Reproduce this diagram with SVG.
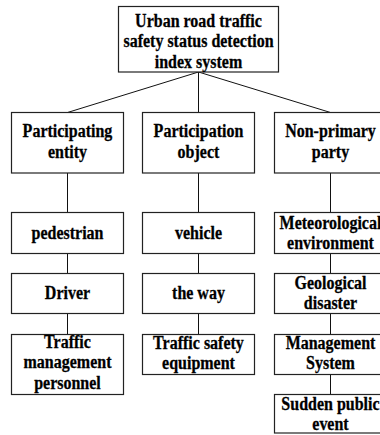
<svg xmlns="http://www.w3.org/2000/svg" width="380" height="435" viewBox="0 0 380 435">
<style>
rect{fill:#fff;stroke:#222;stroke-width:1.2}
text{font-family:'Liberation Serif','Times New Roman',serif;font-weight:700;font-size:16px;text-anchor:middle;fill:#000;stroke:#000;stroke-width:0.25;transform:scaleY(1.15);transform-box:fill-box;transform-origin:center}
#connectors line{stroke:#111;stroke-width:1}
</style>
<rect x="0" y="0" width="380" height="435" style="stroke:none"/>
<g id="connectors">
<line x1="198.5" y1="72" x2="67.5" y2="112.5"/>
<line x1="198.5" y1="72" x2="198.5" y2="112.5"/>
<line x1="198.5" y1="72" x2="330.5" y2="112.5"/>
<line x1="67.5" y1="173" x2="67.5" y2="212.5"/>
<line x1="67.5" y1="253.5" x2="67.5" y2="273.5"/>
<line x1="67.5" y1="313.5" x2="67.5" y2="334.5"/>
<line x1="198.5" y1="173" x2="198.5" y2="212.5"/>
<line x1="198.5" y1="250" x2="198.5" y2="273.5"/>
<line x1="198.5" y1="313.5" x2="198.5" y2="334.5"/>
<line x1="330.5" y1="173" x2="330.5" y2="212.5"/>
<line x1="330.5" y1="253.5" x2="330.5" y2="273.5"/>
<line x1="330.5" y1="313.5" x2="330.5" y2="334.5"/>
<line x1="330.5" y1="374.5" x2="330.5" y2="394.5"/>
</g>
<g id="root">
<rect x="118.5" y="6.5" width="160" height="65.5"/>
<text x="198.5" y="26">Urban road traffic</text>
<text x="198.5" y="46.5">safety status detection</text>
<text x="198.5" y="67">index system</text>
</g>
<g id="participating-entity">
<rect x="11.5" y="112.5" width="112" height="60.5"/>
<text x="67.5" y="136.5">Participating</text>
<text x="67.5" y="157.5">entity</text>
</g>
<g id="participation-object">
<rect x="142.5" y="112.5" width="112" height="60.5"/>
<text x="198.5" y="136.5">Participation</text>
<text x="198.5" y="157.5">object</text>
</g>
<g id="non-primary-party">
<rect x="274.5" y="112.5" width="112" height="60.5"/>
<text x="330.5" y="136.5">Non-primary</text>
<text x="330.5" y="157.5">party</text>
</g>
<g id="pedestrian">
<rect x="11.5" y="212.5" width="112" height="41"/>
<text x="67.5" y="238">pedestrian</text>
</g>
<g id="driver">
<rect x="11.5" y="273.5" width="112" height="40"/>
<text x="67.5" y="298.5">Driver</text>
</g>
<g id="traffic-management-personnel">
<rect x="11.5" y="334.5" width="112" height="60"/>
<text x="67.5" y="347">Traffic</text>
<text x="67.5" y="367.5">management</text>
<text x="67.5" y="388">personnel</text>
</g>
<g id="vehicle">
<rect x="142.5" y="212.5" width="112" height="41"/>
<text x="198.5" y="238">vehicle</text>
</g>
<g id="the-way">
<rect x="142.5" y="273.5" width="112" height="40"/>
<text x="198.5" y="298.5">the way</text>
</g>
<g id="traffic-safety-equipment">
<rect x="142.5" y="334.5" width="112" height="40"/>
<text x="198.5" y="348">Traffic safety</text>
<text x="198.5" y="368">equipment</text>
</g>
<g id="meteorological-environment">
<rect x="274.5" y="212.5" width="112" height="41"/>
<text x="330.5" y="228">Meteorological</text>
<text x="330.5" y="248.5">environment</text>
</g>
<g id="geological-disaster">
<rect x="274.5" y="273.5" width="112" height="40"/>
<text x="330.5" y="288">Geological</text>
<text x="330.5" y="308.5">disaster</text>
</g>
<g id="management-system">
<rect x="274.5" y="334.5" width="112" height="40"/>
<text x="330.5" y="348">Management</text>
<text x="330.5" y="368">System</text>
</g>
<g id="sudden-public-event">
<rect x="274.5" y="394.5" width="112" height="38.5"/>
<text x="330.5" y="409.5">Sudden public</text>
<text x="330.5" y="429.5">event</text>
</g>
</svg>
